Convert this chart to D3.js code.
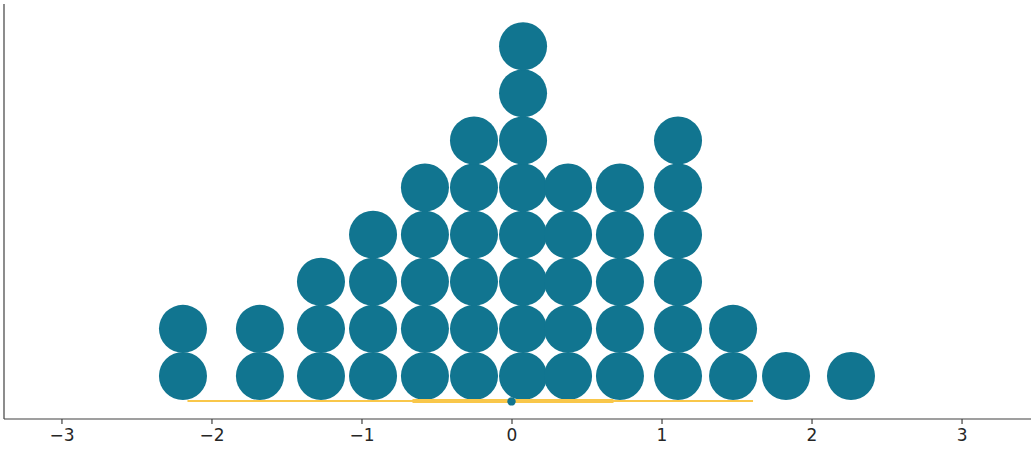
<!DOCTYPE html>
<html>
<head>
<meta charset="utf-8">
<script src="https://cdn.jsdelivr.net/npm/d3@7"></script>
<style>
  body { margin: 0; background: #fff; }
  svg { display: block; }
</style>
</head>
<body>
<svg width="1035" height="450"></svg>
<script>
// dot column centres (value) and how many dots are stacked there
var binCenters = [-2.19, -1.677, -1.27, -0.923, -0.577, -0.25, 0.077, 0.377, 0.723, 1.11, 1.477, 1.83, 2.263];
var binCounts  = [2, 2, 3, 4, 5, 6, 8, 5, 5, 6, 2, 1, 1];
var hdiOuter = [-2.16, 1.61];
var hdiInner = [-0.66, 0.68];
var pointEstimate = 0;
var xTicks = [-3, -2, -1, 0, 1, 2, 3];

var svg = d3.select("svg");
var mLeft = 4, mRight = 1031, mTop = 4, mBottom = 419;

var x = d3.scaleLinear().domain([-3.383, 3.463]).range([mLeft, mRight]);
var y = d3.scaleLinear().domain([-0.414, 8.397]).range([mBottom, mTop]);

var dots = [];
binCenters.forEach(function(c, i) {
    for (var k = 0; k < binCounts[i]; k++) dots.push({ x: c, row: k });
});

var r = y(0) - y(0.51);

svg.append("g")
    .selectAll("circle")
    .data(dots).enter()
    .append("circle")
        .attr("cx", function(d) { return x(d.x); })
        .attr("cy", function(d) { return y(d.row + 0.5); })
        .attr("r", r)
        .attr("fill", "#117590");

var yh = y(-0.03);
svg.append("line")
    .attr("x1", x(hdiOuter[0])).attr("x2", x(hdiOuter[1]))
    .attr("y1", yh).attr("y2", yh)
    .attr("stroke", "#f9c74a").attr("stroke-width", 2);
svg.append("line")
    .attr("x1", x(hdiInner[0])).attr("x2", x(hdiInner[1]))
    .attr("y1", yh).attr("y2", yh)
    .attr("stroke", "#f9c74a").attr("stroke-width", 4);
svg.append("circle")
    .attr("cx", x(pointEstimate)).attr("cy", yh + 0.5)
    .attr("r", 4.2)
    .attr("fill", "#117590");

var xAxis = d3.axisBottom(x)
    .tickValues(xTicks)
    .tickSize(5)
    .tickPadding(5)
    .tickFormat(function(d) { return String(d).replace("-", "\u2212"); });

var gx = svg.append("g")
    .attr("transform", "translate(0," + mBottom + ")")
    .call(xAxis)
    .attr("font-family", "DejaVu Sans, sans-serif")
    .attr("font-size", 17);
gx.select(".domain").attr("stroke", "#404040").attr("stroke-width", 1.2)
    .attr("d", "M" + mLeft + ",0H" + mRight);
gx.selectAll(".tick line").attr("stroke", "#404040").attr("stroke-width", 1.2);
gx.selectAll(".tick text").attr("fill", "#262626");

svg.append("line")
    .attr("x1", mLeft).attr("x2", mLeft)
    .attr("y1", mTop).attr("y2", mBottom)
    .attr("stroke", "#404040").attr("stroke-width", 1.2);
</script>
</body>
</html>
